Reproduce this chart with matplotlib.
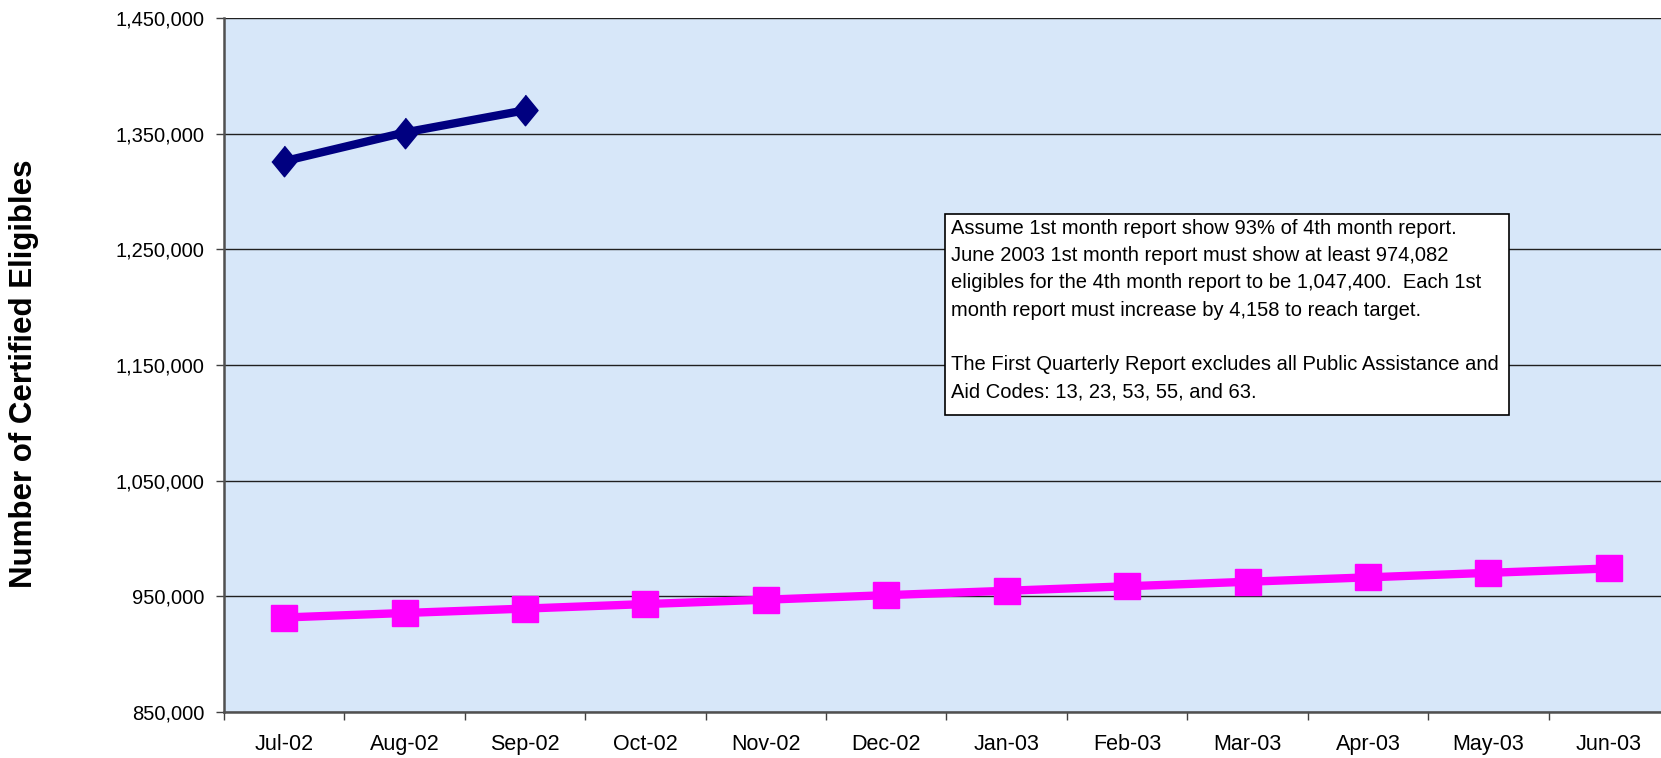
import numpy as np
import matplotlib.pyplot as plt
from matplotlib.patches import Rectangle
from matplotlib.ticker import FuncFormatter, FixedLocator

plt.rcParams['font.family'] = ['Liberation Sans', 'DejaVu Sans']

months = ['Jul-02', 'Aug-02', 'Sep-02', 'Oct-02', 'Nov-02', 'Dec-02',
          'Jan-03', 'Feb-03', 'Mar-03', 'Apr-03', 'May-03', 'Jun-03']
# 4th month report (actual), only first three months available
actual = [1326200, 1351000, 1370200]
# 1st month report target line
target = [931700, 935600, 939400, 943300, 947100, 951000,
          954800, 958700, 962600, 966400, 970300, 974100]
y_ticks = [850000, 950000, 1050000, 1150000, 1250000, 1350000, 1450000]

note = ("Assume 1st month report show 93% of 4th month report.\n"
        "June 2003 1st month report must show at least 974,082\n"
        "eligibles for the 4th month report to be 1,047,400.  Each 1st\n"
        "month report must increase by 4,158 to reach target.\n"
        "\n"
        "The First Quarterly Report excludes all Public Assistance and\n"
        "Aid Codes: 13, 23, 53, 55, and 63.")

W, H = 1661, 758
fig = plt.figure(figsize=(W / 100, H / 100), dpi=100)
# axes box in pixels: left 224, right ~1669 (runs off the edge), top 18, bottom 712
ax = fig.add_axes([224 / W, (H - 712) / H, (1669 - 224) / W, (712 - 18) / H])
ax.set_facecolor('#d7e7f9')

x = np.arange(len(months))
ax.plot(x, target, color='#ff00ff', lw=6, marker='s', ms=19,
        mec='#ff00ff', mfc='#ff00ff', zorder=3, clip_on=False)
# diamonds in the reference are a little taller than wide
diamond = [(0, 0.5), (0.41, 0), (0, -0.5), (-0.41, 0)]
ax.plot(x[:len(actual)], actual, color='#000080', lw=6, marker=diamond, ms=22,
        mec='#000080', mfc='#000080', zorder=4)

ax.set_xlim(-0.5, len(months) - 0.5)
ax.set_ylim(850000, 1450000)
ax.set_yticks(y_ticks)
ax.yaxis.set_major_formatter(FuncFormatter(lambda v, p: f'{int(v):,}'))
ax.grid(axis='y', color='#202020', lw=1)
ax.set_axisbelow(True)

ax.set_xticks(x)
ax.set_xticklabels(months)
ax.xaxis.set_minor_locator(FixedLocator(np.arange(-0.5, len(months), 1)))
ax.tick_params(axis='x', which='major', length=0, pad=16, labelsize=15.5)
ax.tick_params(axis='x', which='minor', length=6, width=1, color='#404040')
ax.tick_params(axis='y', length=6, width=1, pad=8, labelsize=14.5, color='#404040')

for s in ['top', 'right']:
    ax.spines[s].set_visible(False)
for s in ['left', 'bottom']:
    ax.spines[s].set_color('#505050')
    ax.spines[s].set_linewidth(1.8)

fig.text(24 / W, 1 - 374 / H, 'Number of Certified Eligibles', rotation=90,
         ha='center', va='center', fontsize=22.5, fontweight='bold')

# note box
fig.patches.append(Rectangle((945 / W, 1 - 415 / H), (1509 - 945) / W, (415 - 214) / H,
                             transform=fig.transFigure, facecolor='white',
                             edgecolor='black', lw=1.2, zorder=5))
fig.text(951 / W, 1 - 219 / H, note, ha='left', va='top', fontsize=14.5,
         linespacing=1.55, zorder=6)

fig.savefig('out.png', dpi=100)
